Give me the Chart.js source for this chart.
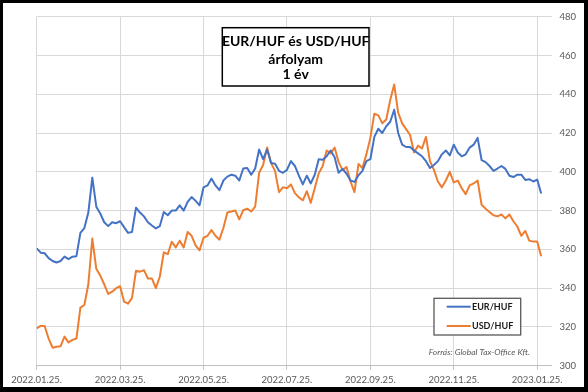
<!DOCTYPE html>
<html>
<head>
<meta charset="utf-8">
<script src="https://cdn.jsdelivr.net/npm/chart.js@4.4.0/dist/chart.umd.min.js"></script>
<style>
  html, body { margin: 0; padding: 0; background: #fff; }
  #frame {
    box-sizing: border-box;
    width: 588px;
    height: 392px;
    border-style: solid;
    border-color: #000;
    border-width: 3px 4px 5px 3px;
  }
  #frame canvas { display: block; }
</style>
</head>
<body>
<div id="frame"><canvas id="fxChart" width="581" height="384"></canvas></div>
<script>
// Tick labels, one every 21 points (about two months of trading days)
const tickLabels = ['2022.01.25.', '2022.03.25.', '2022.05.25.', '2022.07.25.',
                    '2022.09.25.', '2022.11.25.', '2023.01.25.'];
const tickEvery = 21;

// EUR/HUF, roughly every second trading day
const eurHuf = [
  360.5, 358.3, 358, 355.5, 354, 353.2, 354, 356.3, 355, 356.2,
  356.5, 368.5, 371, 379, 397, 382, 378.5, 374, 372, 374,
  373.5, 374.5, 371.5, 368.5, 369, 381.5, 379, 377, 374, 372.3,
  370.8, 372, 379.3, 377.6, 380, 380, 382.7, 380, 384.5, 387,
  385, 382.7, 392, 393, 396.5, 393, 390.5, 395.5, 397.5, 398.5,
  398, 395.5, 401.7, 402, 398.5, 401.7, 411.5, 406.5, 411.5, 404.5,
  404.2, 400.5, 399.5, 401, 405.5, 403, 398, 393.5, 398, 394,
  398.5, 406.5, 406.2, 408, 411, 407.5, 399.5, 401.5, 399, 395.5,
  394.8, 398.2, 400.5, 405.5, 406.5, 418, 422.2, 420, 423.5, 425.8,
  432, 420, 414, 412.8, 412.8, 411, 409.5, 408, 405.5, 402,
  403.5, 405.5, 409, 411, 408.5, 414, 410, 408, 409, 412.5,
  414, 417.5, 406, 405, 403, 400.5, 401.7, 403, 401.5, 398,
  397.3, 398.5, 398.5, 395.8, 396.2, 395, 396, 388.8
];

// USD/HUF, same dates
const usdHuf = [
  319.3, 320.5, 320.5, 314, 309.3, 309.8, 310, 315, 312, 313.3,
  314, 330, 331.3, 342, 365.6, 350, 346.5, 342, 337, 338.2,
  340, 341, 333, 332, 335, 349, 348.5, 349.3, 345, 345,
  340, 346, 358.5, 357.5, 363.9, 361, 364.5, 361, 369, 367,
  362, 359.5, 366, 367, 369.9, 367, 365, 371, 379, 379.5,
  380, 375.5, 380.2, 381, 379.5, 382, 399.5, 403.5, 412.5, 404.5,
  400.5, 389.5, 392, 391.5, 393.5, 389, 386.8, 385.3, 390, 384,
  391.5, 399.2, 403, 411, 409.5, 412.5, 405, 401, 402.5, 395,
  389.5, 404, 402, 409, 417.5, 430, 429.1, 425, 427, 437,
  445, 430.5, 425, 422, 419, 410, 413.5, 412, 418, 405.5,
  401, 395, 392, 395.5, 400, 394.5, 395.5, 391.5, 388.5, 393,
  394, 395.5, 383, 381, 379.3, 377.6, 377, 378, 376, 378,
  374.5, 371.8, 367, 369.5, 364.5, 364, 364, 356.5
];

const titleLines = ['EUR/HUF és USD/HUF', 'árfolyam', '1 év'];
const sourceNote = 'Forrás: Global Tax-Office Kft.';

const FONT = 'Lato, "Open Sans", sans-serif';
const LABEL_COLOR = '#595959';

// title box, legend box and source note, drawn inside the plot area
const boxesPlugin = {
    id: 'boxes',
    afterDraw(chart) {
        const ctx = chart.ctx;
        ctx.save();

        // title box
        ctx.fillStyle = '#fff';
        ctx.fillRect(219.3, 24.7, 146.7, 58.3);
        ctx.lineWidth = 1.5;
        ctx.strokeStyle = '#000';
        ctx.strokeRect(219.3, 24.7, 146.7, 58.3);
        ctx.fillStyle = '#000';
        ctx.font = 'bold 14px ' + FONT;
        ctx.textAlign = 'center';
        ctx.textBaseline = 'alphabetic';
        const baselines = [43, 60.5, 75.5];
        titleLines.forEach((line, i) => ctx.fillText(line, 292.7, baselines[i]));

        // legend box
        ctx.fillStyle = '#fff';
        ctx.fillRect(431, 295.3, 86.7, 36.7);
        ctx.lineWidth = 1.3;
        ctx.strokeStyle = '#595959';
        ctx.strokeRect(431, 295.3, 86.7, 36.7);
        ctx.font = 'bold 9px ' + FONT;
        ctx.textAlign = 'left';
        ctx.textBaseline = 'middle';
        const rows = [303.7, 323];
        chart.data.datasets.forEach((ds, i) => {
            ctx.strokeStyle = ds.borderColor;
            ctx.lineWidth = 2;
            ctx.beginPath();
            ctx.moveTo(443.7, rows[i]);
            ctx.lineTo(467.7, rows[i]);
            ctx.stroke();
            ctx.fillStyle = '#1a1a1a';
            ctx.fillText(ds.label, 469, rows[i] + 0.5);
        });

        // source note
        ctx.fillStyle = LABEL_COLOR;
        ctx.font = 'italic 8.5px ' + FONT;
        ctx.textAlign = 'right';
        ctx.fillText(sourceNote, 527, 349);

        ctx.restore();
    }
};

const ctx = document.getElementById('fxChart').getContext('2d');
window.fxChart = new Chart(ctx, {
    type: 'line',
    data: {
        datasets: [{
            label: 'EUR/HUF',
            data: eurHuf.map((v, i) => ({x: i, y: v})),
            borderColor: '#4472C4',
            borderWidth: 2,
            pointRadius: 0,
            fill: false
        }, {
            label: 'USD/HUF',
            data: usdHuf.map((v, i) => ({x: i, y: v})),
            borderColor: '#ED7D31',
            borderWidth: 2,
            pointRadius: 0,
            fill: false
        }]
    },
    options: {
        responsive: false,
        animation: false,
        layout: {padding: {left: 33.7, top: 13, right: 0, bottom: 0}},
        plugins: {
            legend: {display: false},
            tooltip: {enabled: false}
        },
        elements: {line: {tension: 0, borderJoinStyle: 'round'}},
        scales: {
            x: {
                type: 'linear',
                min: 0,
                max: 129.6,
                afterBuildTicks: scale => {
                    scale.ticks = tickLabels.map((_, k) => ({value: k * tickEvery}));
                },
                afterFit: scale => { scale.height = 21.3; },
                grid: {color: '#d9d9d9', lineWidth: 1, tickLength: 4, tickColor: '#bfbfbf'},
                border: {color: '#bfbfbf'},
                ticks: {
                    autoSkip: false,
                    maxRotation: 0,
                    padding: 5,
                    color: LABEL_COLOR,
                    font: {family: FONT, size: 9.5},
                    callback: value => tickLabels[Math.round(value / tickEvery)]
                }
            },
            y: {
                position: 'right',
                min: 300,
                max: 480,
                afterFit: scale => { scale.width = 32.5; },
                grid: {color: '#d9d9d9', drawTicks: false},
                border: {display: false},
                ticks: {
                    stepSize: 20,
                    padding: 8,
                    color: LABEL_COLOR,
                    font: {family: FONT, size: 9.5}
                }
            }
        }
    },
    plugins: [boxesPlugin]
});
</script>
</body>
</html>
